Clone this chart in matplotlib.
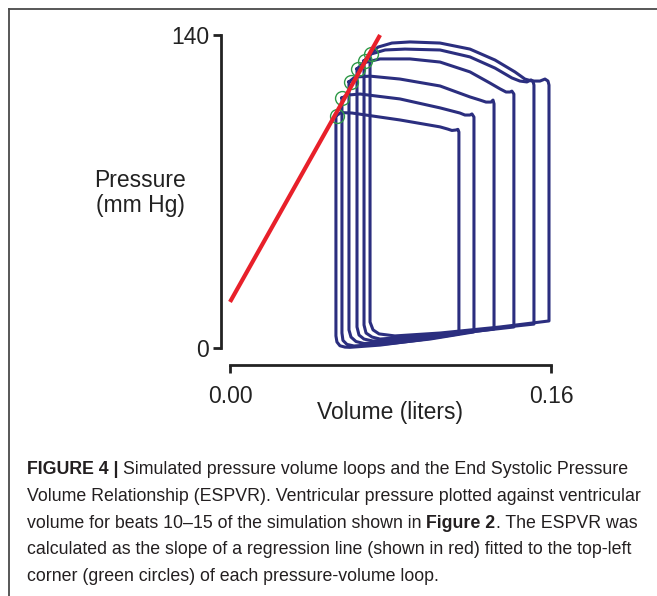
import matplotlib
matplotlib.use("Agg")
import matplotlib.pyplot as plt
from matplotlib.lines import Line2D

# pressure-volume loops, beats 10-15 (volume in liters, pressure in mm Hg)
beat10_vol = [0.0528, 0.0553, 0.0608, 0.0847, 0.1047, 0.1086, 0.1106, 0.1126, 0.1136, 0.1141,
              0.1141, 0.0947, 0.0748, 0.0598, 0.0573, 0.0548, 0.0533, 0.0528, 0.0528]
beat10_p = [103.8, 105.3, 105.1, 102.0, 98.9, 97.9, 97.3, 97.5, 97.8, 96.6,
            6.3, 3.6, 1.3, 0.3, 0.4, 1.0, 2.7, 5.4, 103.8]

beat11_vol = [0.0558, 0.0583, 0.0648, 0.0847, 0.1047, 0.1146, 0.1171, 0.1196, 0.1206, 0.1216,
              0.1216, 0.0997, 0.0797, 0.0618, 0.0583, 0.0563, 0.0558, 0.0558]
beat11_p = [111.8, 113.1, 113.6, 111.4, 107.4, 105.1, 104.2, 104.2, 104.7, 103.3,
            7.2, 4.0, 2.0, 0.9, 1.6, 3.4, 6.7, 111.8]

beat12_vol = [0.0593, 0.0623, 0.0698, 0.0847, 0.1047, 0.1196, 0.1246, 0.1276, 0.1301, 0.1311, 0.1316,
              0.1316, 0.1047, 0.0847, 0.0668, 0.0628, 0.0603, 0.0593, 0.0593]
beat12_p = [119.0, 121.2, 121.6, 120.3, 117.2, 112.3, 110.9, 110.0, 110.0, 110.9, 109.2,
            8.5, 5.4, 3.1, 2.0, 2.9, 4.9, 8.1, 119.0]

beat13_vol = [0.0633, 0.0663, 0.0748, 0.0897, 0.1047, 0.1196, 0.1296, 0.1346, 0.1376, 0.1396, 0.1405, 0.1415,
              0.1415, 0.1147, 0.0897, 0.0713, 0.0668, 0.0643, 0.0633, 0.0633]
beat13_p = [124.8, 127.5, 129.3, 129.3, 127.9, 123.5, 118.5, 115.9, 114.5, 114.5, 114.9, 113.6,
            9.4, 6.7, 4.5, 3.1, 4.0, 5.8, 9.4, 124.8]

beat14_vol = [0.0668, 0.0703, 0.0773, 0.0872, 0.1047, 0.1196, 0.1321, 0.1405, 0.1445, 0.1480, 0.1500, 0.1510, 0.1515,
              0.1515, 0.1246, 0.0947, 0.0748, 0.0708, 0.0678, 0.0668, 0.0668]
beat14_p = [128.4, 131.5, 133.3, 133.7, 133.3, 130.2, 125.2, 120.8, 119.4, 119.0, 119.9, 119.4, 117.6,
            10.7, 8.1, 5.4, 4.0, 4.9, 6.7, 10.3, 128.4]

beat15_vol = [0.0698, 0.0738, 0.0807, 0.0897, 0.1047, 0.1196, 0.1321, 0.1420, 0.1470, 0.1505, 0.1545, 0.1570, 0.1585, 0.1590,
              0.1590, 0.1346, 0.1047, 0.0822, 0.0743, 0.0713, 0.0698, 0.0698]
beat15_p = [131.5, 134.6, 136.4, 136.9, 136.4, 133.7, 128.8, 123.5, 120.3, 119.4, 119.4, 120.3, 119.4, 117.6,
            12.1, 9.4, 6.7, 5.4, 6.3, 8.1, 11.6, 131.5]

# top-left corners used for the ESPVR fit
corner_vol = [0.0533, 0.0558, 0.0603, 0.0638, 0.0673, 0.0703]
corner_p = [103.8, 111.8, 119.0, 124.8, 128.4, 131.5]

# regression line (ESPVR)
espvr_vol = [0.0, 0.0748]
espvr_p = [20.6, 140.0]

caption_lines = [
    [("FIGURE 4 |", "bold"), ("Simulated pressure volume loops and the End Systolic Pressure", "normal")],
    [("Volume Relationship (ESPVR). Ventricular pressure plotted against ventricular", "normal")],
    [("volume for beats 10\u201315 of the simulation shown in", "normal"), ("Figure 2", "bold"),
     (". The ESPVR was", "normal")],
    [("calculated as the slope of a regression line (shown in red) fitted to the top-left", "normal")],
    [("corner (green circles) of each pressure-volume loop.", "normal")],
]

W, H = 657, 596
plt.rcParams['font.family'] = ['Liberation Sans', 'DejaVu Sans']
fig = plt.figure(figsize=(W / 100, H / 100), dpi=100)
ax = fig.add_axes([230 / W, (H - 348) / H, 321 / W, 313 / H])

navy = "#2b2e7f"
loops = [(beat10_vol, beat10_p), (beat11_vol, beat11_p), (beat12_vol, beat12_p),
         (beat13_vol, beat13_p), (beat14_vol, beat14_p), (beat15_vol, beat15_p)]
for v, p in loops:
    ax.plot(v, p, color=navy, lw=2.2, solid_joinstyle="round", clip_on=False)

ax.plot(corner_vol, corner_p, "o", ms=10, mfc="none", mec="#2f9a48", mew=1.0, clip_on=False)
ax.plot(espvr_vol, espvr_p, color="#e8202a", lw=3, solid_capstyle="butt", clip_on=False)

ax.set_xlim(0, 0.16)
ax.set_ylim(0, 140)
ax.set_xticks([0, 0.16])
ax.set_xticklabels(["0.00", "0.16"])
ax.set_yticks([0, 140])
ax.set_yticklabels(["0", "140"])
for s in ["top", "right"]:
    ax.spines[s].set_visible(False)
# offsets are in points (9 px and 17 px at 100 dpi)
ax.spines["left"].set_position(("outward", 6.5))
ax.spines["bottom"].set_position(("outward", 12.3))
ax.spines["left"].set_bounds(0, 140)
ax.spines["bottom"].set_bounds(0, 0.16)
for s in ["left", "bottom"]:
    ax.spines[s].set_linewidth(2)
    ax.spines[s].set_color("#222222")
ax.tick_params(axis="y", length=5.5, width=2, color="#222222", pad=3, labelsize=16.5, labelcolor="#222222")
ax.tick_params(axis="x", length=5.5, width=2, color="#222222", pad=9, labelsize=16.5, labelcolor="#222222")
ax.patch.set_visible(False)

fig.text(140 / W, 1 - 193 / H, "Pressure\n(mm Hg)", ha="center", va="center", fontsize=16.5,
         color="#222222", linespacing=1.15)
fig.text(390 / W, 1 - 412 / H, "Volume (liters)", ha="center", va="center", fontsize=16.5, color="#222222")

# frame around the figure panel
fig.add_artist(Line2D([8.5 / W, 1], [1 - 8.5 / H, 1 - 8.5 / H], color="#4a4a4a", lw=1.3))
fig.add_artist(Line2D([8.5 / W, 8.5 / W], [0, 1 - 8.5 / H], color="#4a4a4a", lw=1.3))

# caption, sized so the first line spans the same width as in the figure
renderer = fig.canvas.get_renderer()


def draw_line(parts, x, y, size):
    t1 = fig.text(0, 0, "x x", fontsize=size)
    t2 = fig.text(0, 0, "xx", fontsize=size)
    space = t1.get_window_extent(renderer).width - t2.get_window_extent(renderer).width
    t1.remove()
    t2.remove()
    made = []
    for j, (s, w) in enumerate(parts):
        if j > 0 and not s.startswith("."):
            x += space
        t = fig.text(x / W, y / H, s, fontsize=size, fontweight=w, color="#231f20",
                     va="baseline", ha="left")
        made.append(t)
        x = t.get_window_extent(renderer).x1
    return made, x


probe, x_end = draw_line(caption_lines[0], 27, 0, 14)
for t in probe:
    t.remove()
cap_size = 14 * 607 / (x_end - 27)

for i, parts in enumerate(caption_lines):
    draw_line(parts, 27, H - (474 + 26.8 * i), cap_size)

fig.savefig("out.png", dpi=100)
